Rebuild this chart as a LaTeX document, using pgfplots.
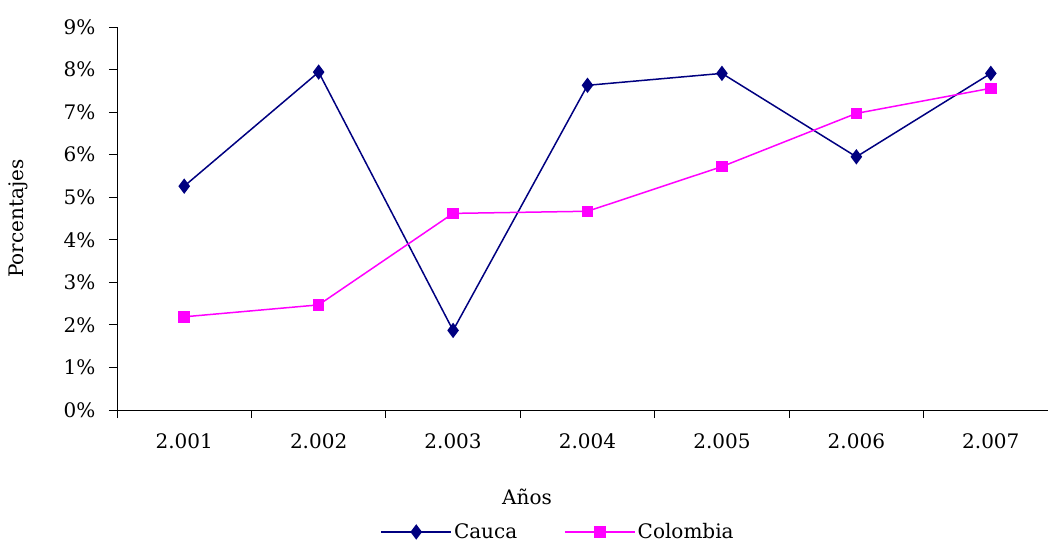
\documentclass[border=0pt]{standalone}
\usepackage{fontspec}
\setmainfont{DejaVu Serif}
\usepackage{pgfplots}
\pgfplotsset{compat=1.18}
\definecolor{cauca}{RGB}{0,0,128}
\definecolor{colom}{RGB}{255,0,255}
\begin{document}
\begin{tikzpicture}[x=1pt,y=1pt]
\useasboundingbox (0,0) rectangle (1048,542);
\begin{axis}[
  at={(117pt,132pt)}, anchor=south west,
  scale only axis, width=941pt, height=383pt,
  xmin=0.5, xmax=7.5, ymin=0, ymax=9,
  axis lines*=left,
  axis line style={black, line width=0.8pt},
  tick align=outside,
  major tick length=8pt, minor tick length=8pt,
  xtick={1,...,7},
  xticklabels={2.001,2.002,2.003,2.004,2.005,2.006,2.007},
  major x tick style={draw=none},
  minor xtick={0.5,1.5,...,6.5},
  minor x tick style={black, line width=0.8pt},
  ytick={0,...,9},
  yticklabels={0\%,1\%,2\%,3\%,4\%,5\%,6\%,7\%,8\%,9\%},
  ytick style={black, line width=0.8pt},
  tick label style={font=\fontsize{20}{23}\selectfont},
  xticklabel style={yshift=-12pt},
  yticklabel style={xshift=-10pt},
  ylabel={Porcentajes},
  ylabel style={font=\fontsize{20}{23}\selectfont, at={(axis description cs:-0.105,0.5)}, anchor=center, rotate=0},
  xlabel={Años},
  xlabel style={font=\fontsize{20}{23}\selectfont, at={(axis description cs:0.4357,-0.227)}, anchor=center},
  legend style={at={(axis description cs:0.4687,-0.3185)}, anchor=center, draw=none, fill=none,
    legend columns=2, font=\fontsize{20}{23}\selectfont,
    /tikz/every even column/.append style={column sep=45pt}},
  legend image code/.code={\draw[mark repeat=2,mark phase=2] plot coordinates {(0pt,0pt)(35pt,0pt)(70pt,0pt)};},
  clip=false,
]
\addplot[cauca, line width=1.5pt, mark=diamond*, mark size=6.5pt, mark options={solid}]
  coordinates {(1,5.26)(2,7.94)(3,1.87)(4,7.63)(5,7.91)(6,5.95)(7,7.91)};
\addlegendentry{Cauca}
\addplot[colom, line width=1.5pt, mark=square*, mark size=5pt, mark options={solid}]
  coordinates {(1,2.19)(2,2.47)(3,4.62)(4,4.67)(5,5.72)(6,6.97)(7,7.56)};
\addlegendentry{Colombia}
\end{axis}
\end{tikzpicture}
\end{document}
